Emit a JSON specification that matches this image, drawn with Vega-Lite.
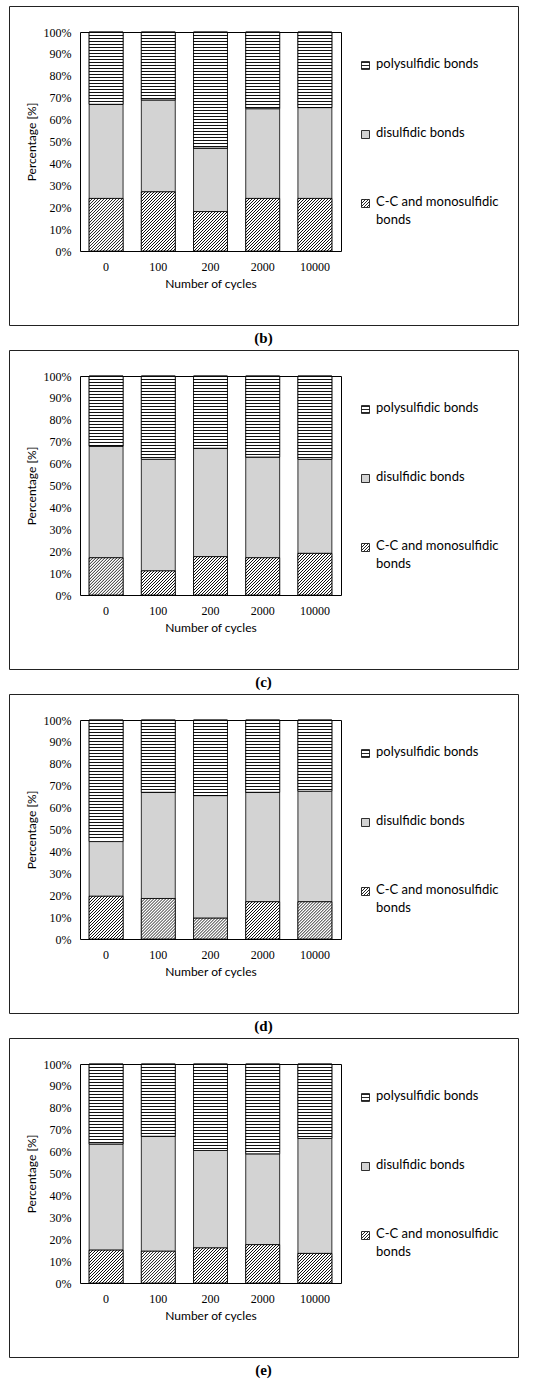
{
  "$schema": "https://vega.github.io/schema/vega-lite/v6.json",
  "padding": {"left": 8, "top": 5, "right": 0, "bottom": 0},
  "background": "white",
  "spacing": 2,
  "params": [
    {"name": "polyStops", "expr": "[{offset:0,color:'#fff'},{offset:0.004,color:'#111'},{offset:0.008,color:'#111'},{offset:0.012,color:'#fff'},{offset:0.025,color:'#fff'},{offset:0.029,color:'#111'},{offset:0.033,color:'#111'},{offset:0.037,color:'#fff'},{offset:0.05,color:'#fff'},{offset:0.054,color:'#111'},{offset:0.058,color:'#111'},{offset:0.062,color:'#fff'},{offset:0.075,color:'#fff'},{offset:0.079,color:'#111'},{offset:0.083,color:'#111'},{offset:0.087,color:'#fff'},{offset:0.1,color:'#fff'},{offset:0.104,color:'#111'},{offset:0.108,color:'#111'},{offset:0.112,color:'#fff'},{offset:0.125,color:'#fff'},{offset:0.129,color:'#111'},{offset:0.133,color:'#111'},{offset:0.137,color:'#fff'},{offset:0.15,color:'#fff'},{offset:0.154,color:'#111'},{offset:0.158,color:'#111'},{offset:0.162,color:'#fff'},{offset:0.175,color:'#fff'},{offset:0.179,color:'#111'},{offset:0.183,color:'#111'},{offset:0.187,color:'#fff'},{offset:0.2,color:'#fff'},{offset:0.204,color:'#111'},{offset:0.208,color:'#111'},{offset:0.212,color:'#fff'},{offset:0.225,color:'#fff'},{offset:0.229,color:'#111'},{offset:0.233,color:'#111'},{offset:0.237,color:'#fff'},{offset:0.25,color:'#fff'},{offset:0.254,color:'#111'},{offset:0.258,color:'#111'},{offset:0.262,color:'#fff'},{offset:0.275,color:'#fff'},{offset:0.279,color:'#111'},{offset:0.283,color:'#111'},{offset:0.287,color:'#fff'},{offset:0.3,color:'#fff'},{offset:0.304,color:'#111'},{offset:0.308,color:'#111'},{offset:0.312,color:'#fff'},{offset:0.325,color:'#fff'},{offset:0.329,color:'#111'},{offset:0.333,color:'#111'},{offset:0.337,color:'#fff'},{offset:0.35,color:'#fff'},{offset:0.354,color:'#111'},{offset:0.358,color:'#111'},{offset:0.362,color:'#fff'},{offset:0.375,color:'#fff'},{offset:0.379,color:'#111'},{offset:0.383,color:'#111'},{offset:0.387,color:'#fff'},{offset:0.4,color:'#fff'},{offset:0.404,color:'#111'},{offset:0.408,color:'#111'},{offset:0.412,color:'#fff'},{offset:0.425,color:'#fff'},{offset:0.429,color:'#111'},{offset:0.433,color:'#111'},{offset:0.437,color:'#fff'},{offset:0.45,color:'#fff'},{offset:0.454,color:'#111'},{offset:0.458,color:'#111'},{offset:0.462,color:'#fff'},{offset:0.475,color:'#fff'},{offset:0.479,color:'#111'},{offset:0.483,color:'#111'},{offset:0.487,color:'#fff'},{offset:0.5,color:'#fff'},{offset:0.504,color:'#111'},{offset:0.508,color:'#111'},{offset:0.512,color:'#fff'},{offset:0.525,color:'#fff'},{offset:0.529,color:'#111'},{offset:0.533,color:'#111'},{offset:0.537,color:'#fff'},{offset:0.55,color:'#fff'},{offset:0.554,color:'#111'},{offset:0.558,color:'#111'},{offset:0.562,color:'#fff'},{offset:0.575,color:'#fff'},{offset:0.579,color:'#111'},{offset:0.583,color:'#111'},{offset:0.587,color:'#fff'},{offset:0.6,color:'#fff'},{offset:0.604,color:'#111'},{offset:0.608,color:'#111'},{offset:0.612,color:'#fff'},{offset:0.625,color:'#fff'},{offset:0.629,color:'#111'},{offset:0.633,color:'#111'},{offset:0.637,color:'#fff'},{offset:0.65,color:'#fff'},{offset:0.654,color:'#111'},{offset:0.658,color:'#111'},{offset:0.662,color:'#fff'},{offset:0.675,color:'#fff'},{offset:0.679,color:'#111'},{offset:0.683,color:'#111'},{offset:0.687,color:'#fff'},{offset:0.7,color:'#fff'},{offset:0.704,color:'#111'},{offset:0.708,color:'#111'},{offset:0.712,color:'#fff'},{offset:0.725,color:'#fff'},{offset:0.729,color:'#111'},{offset:0.733,color:'#111'},{offset:0.737,color:'#fff'},{offset:0.75,color:'#fff'},{offset:0.754,color:'#111'},{offset:0.758,color:'#111'},{offset:0.762,color:'#fff'},{offset:0.775,color:'#fff'},{offset:0.779,color:'#111'},{offset:0.783,color:'#111'},{offset:0.787,color:'#fff'},{offset:0.8,color:'#fff'},{offset:0.804,color:'#111'},{offset:0.808,color:'#111'},{offset:0.812,color:'#fff'},{offset:0.825,color:'#fff'},{offset:0.829,color:'#111'},{offset:0.833,color:'#111'},{offset:0.837,color:'#fff'},{offset:0.85,color:'#fff'},{offset:0.854,color:'#111'},{offset:0.858,color:'#111'},{offset:0.862,color:'#fff'},{offset:0.875,color:'#fff'},{offset:0.879,color:'#111'},{offset:0.883,color:'#111'},{offset:0.887,color:'#fff'},{offset:0.9,color:'#fff'},{offset:0.904,color:'#111'},{offset:0.908,color:'#111'},{offset:0.912,color:'#fff'},{offset:0.925,color:'#fff'},{offset:0.929,color:'#111'},{offset:0.933,color:'#111'},{offset:0.937,color:'#fff'},{offset:0.95,color:'#fff'},{offset:0.954,color:'#111'},{offset:0.958,color:'#111'},{offset:0.962,color:'#fff'},{offset:0.975,color:'#fff'},{offset:0.979,color:'#111'},{offset:0.983,color:'#111'},{offset:0.987,color:'#fff'},{offset:1,color:'#fff'}]"},
    {"name": "polyLegend", "expr": "{id:'legpoly',gradient:'linear',x1:0,y1:0,x2:0,y2:15,stops:polyStops}"},
    {"name": "ccLegend", "expr": "{id:'legcc',gradient:'linear',x1:0,y1:0,x2:7.5,y2:7.5,stops:polyStops}"}
  ],
  "datasets": {
    "bonds": [
      {"panel": "b", "cycles": "0", "bond": "C-C and monosulfidic bonds", "value": 24, "order": 1},
      {"panel": "b", "cycles": "0", "bond": "disulfidic bonds", "value": 43, "order": 2},
      {"panel": "b", "cycles": "0", "bond": "polysulfidic bonds", "value": 33, "order": 3},
      {"panel": "b", "cycles": "100", "bond": "C-C and monosulfidic bonds", "value": 27, "order": 1},
      {"panel": "b", "cycles": "100", "bond": "disulfidic bonds", "value": 42, "order": 2},
      {"panel": "b", "cycles": "100", "bond": "polysulfidic bonds", "value": 31, "order": 3},
      {"panel": "b", "cycles": "200", "bond": "C-C and monosulfidic bonds", "value": 18, "order": 1},
      {"panel": "b", "cycles": "200", "bond": "disulfidic bonds", "value": 29, "order": 2},
      {"panel": "b", "cycles": "200", "bond": "polysulfidic bonds", "value": 53, "order": 3},
      {"panel": "b", "cycles": "2000", "bond": "C-C and monosulfidic bonds", "value": 24, "order": 1},
      {"panel": "b", "cycles": "2000", "bond": "disulfidic bonds", "value": 41, "order": 2},
      {"panel": "b", "cycles": "2000", "bond": "polysulfidic bonds", "value": 35, "order": 3},
      {"panel": "b", "cycles": "10000", "bond": "C-C and monosulfidic bonds", "value": 24, "order": 1},
      {"panel": "b", "cycles": "10000", "bond": "disulfidic bonds", "value": 41.5, "order": 2},
      {"panel": "b", "cycles": "10000", "bond": "polysulfidic bonds", "value": 34.5, "order": 3},
      {"panel": "c", "cycles": "0", "bond": "C-C and monosulfidic bonds", "value": 17, "order": 1},
      {"panel": "c", "cycles": "0", "bond": "disulfidic bonds", "value": 51, "order": 2},
      {"panel": "c", "cycles": "0", "bond": "polysulfidic bonds", "value": 32, "order": 3},
      {"panel": "c", "cycles": "100", "bond": "C-C and monosulfidic bonds", "value": 11, "order": 1},
      {"panel": "c", "cycles": "100", "bond": "disulfidic bonds", "value": 51, "order": 2},
      {"panel": "c", "cycles": "100", "bond": "polysulfidic bonds", "value": 38, "order": 3},
      {"panel": "c", "cycles": "200", "bond": "C-C and monosulfidic bonds", "value": 17.5, "order": 1},
      {"panel": "c", "cycles": "200", "bond": "disulfidic bonds", "value": 49.5, "order": 2},
      {"panel": "c", "cycles": "200", "bond": "polysulfidic bonds", "value": 33, "order": 3},
      {"panel": "c", "cycles": "2000", "bond": "C-C and monosulfidic bonds", "value": 17, "order": 1},
      {"panel": "c", "cycles": "2000", "bond": "disulfidic bonds", "value": 46, "order": 2},
      {"panel": "c", "cycles": "2000", "bond": "polysulfidic bonds", "value": 37, "order": 3},
      {"panel": "c", "cycles": "10000", "bond": "C-C and monosulfidic bonds", "value": 19, "order": 1},
      {"panel": "c", "cycles": "10000", "bond": "disulfidic bonds", "value": 43, "order": 2},
      {"panel": "c", "cycles": "10000", "bond": "polysulfidic bonds", "value": 38, "order": 3},
      {"panel": "d", "cycles": "0", "bond": "C-C and monosulfidic bonds", "value": 19.5, "order": 1},
      {"panel": "d", "cycles": "0", "bond": "disulfidic bonds", "value": 25, "order": 2},
      {"panel": "d", "cycles": "0", "bond": "polysulfidic bonds", "value": 55.5, "order": 3},
      {"panel": "d", "cycles": "100", "bond": "C-C and monosulfidic bonds", "value": 18.5, "order": 1},
      {"panel": "d", "cycles": "100", "bond": "disulfidic bonds", "value": 48.5, "order": 2},
      {"panel": "d", "cycles": "100", "bond": "polysulfidic bonds", "value": 33, "order": 3},
      {"panel": "d", "cycles": "200", "bond": "C-C and monosulfidic bonds", "value": 9.5, "order": 1},
      {"panel": "d", "cycles": "200", "bond": "disulfidic bonds", "value": 56, "order": 2},
      {"panel": "d", "cycles": "200", "bond": "polysulfidic bonds", "value": 34.5, "order": 3},
      {"panel": "d", "cycles": "2000", "bond": "C-C and monosulfidic bonds", "value": 17, "order": 1},
      {"panel": "d", "cycles": "2000", "bond": "disulfidic bonds", "value": 50, "order": 2},
      {"panel": "d", "cycles": "2000", "bond": "polysulfidic bonds", "value": 33, "order": 3},
      {"panel": "d", "cycles": "10000", "bond": "C-C and monosulfidic bonds", "value": 17, "order": 1},
      {"panel": "d", "cycles": "10000", "bond": "disulfidic bonds", "value": 50.5, "order": 2},
      {"panel": "d", "cycles": "10000", "bond": "polysulfidic bonds", "value": 32.5, "order": 3},
      {"panel": "e", "cycles": "0", "bond": "C-C and monosulfidic bonds", "value": 15, "order": 1},
      {"panel": "e", "cycles": "0", "bond": "disulfidic bonds", "value": 48.5, "order": 2},
      {"panel": "e", "cycles": "0", "bond": "polysulfidic bonds", "value": 36.5, "order": 3},
      {"panel": "e", "cycles": "100", "bond": "C-C and monosulfidic bonds", "value": 14.5, "order": 1},
      {"panel": "e", "cycles": "100", "bond": "disulfidic bonds", "value": 52.5, "order": 2},
      {"panel": "e", "cycles": "100", "bond": "polysulfidic bonds", "value": 33, "order": 3},
      {"panel": "e", "cycles": "200", "bond": "C-C and monosulfidic bonds", "value": 16, "order": 1},
      {"panel": "e", "cycles": "200", "bond": "disulfidic bonds", "value": 44.5, "order": 2},
      {"panel": "e", "cycles": "200", "bond": "polysulfidic bonds", "value": 39.5, "order": 3},
      {"panel": "e", "cycles": "2000", "bond": "C-C and monosulfidic bonds", "value": 17.5, "order": 1},
      {"panel": "e", "cycles": "2000", "bond": "disulfidic bonds", "value": 41.5, "order": 2},
      {"panel": "e", "cycles": "2000", "bond": "polysulfidic bonds", "value": 41, "order": 3},
      {"panel": "e", "cycles": "10000", "bond": "C-C and monosulfidic bonds", "value": 13.5, "order": 1},
      {"panel": "e", "cycles": "10000", "bond": "disulfidic bonds", "value": 52.5, "order": 2},
      {"panel": "e", "cycles": "10000", "bond": "polysulfidic bonds", "value": 34, "order": 3}
    ]
  },
  "resolve": {
    "scale": {"x": "independent", "y": "independent", "color": "independent"},
    "legend": {"color": "independent"}
  },
  "vconcat": [
    {
      "width": 509, "height": 319,
      "title": "(b)",
      "data": {"name": "bonds"},
      "transform": [{"filter": "datum.panel == 'b'"}, {"stack": "value", "groupby": ["cycles"], "sort": [{"field": "order", "order": "ascending"}], "offset": "normalize", "as": ["v0", "v1"]}],
      "layer": [
        {
          "mark": {"type": "bar", "stroke": "#000", "strokeWidth": 0.8},
          "encoding": {
            "x": {"field": "cycles", "type": "nominal", "sort": ["0", "100", "200", "2000", "10000"],
              "scale": {"range": [71, 332], "paddingInner": 0.35, "paddingOuter": 0.175},
              "axis": {"orient": "bottom", "offset": -74, "labelAngle": 0, "ticks": false, "labelPadding": 10, "labelFont": "Liberation Serif", "labelFontSize": 12, "title": "Number of cycles", "titleFont": "Lato", "titleFontSize": 12, "titleFontWeight": "normal", "titlePadding": 6}},
            "y": {"field": "v0", "type": "quantitative",
              "scale": {"range": [245, 26], "domain": [0, 1], "nice": false},
              "axis": {"orient": "left", "offset": -71, "values": [0, 0.1, 0.2, 0.3, 0.4, 0.5, 0.6, 0.7, 0.8, 0.9, 1], "format": ".0%", "ticks": false, "labelPadding": 9, "labelFont": "Liberation Serif", "labelFontSize": 12, "title": "Percentage [%]", "titleFont": "Lato", "titleFontSize": 12, "titleFontWeight": "normal", "titlePadding": 5}},
            "y2": {"field": "v1"},
            "color": {"field": "bond", "type": "nominal",
              "scale": {"domain": ["polysulfidic bonds", "disulfidic bonds", "C-C and monosulfidic bonds"], "range": [{"expr": "polyLegend"}, "#d3d3d3", {"expr": "ccLegend"}]},
              "legend": {"orient": "none", "legendX": 350, "legendY": 53, "title": null, "symbolType": "square", "symbolSize": 64, "symbolStrokeColor": "#000", "symbolStrokeWidth": 0.8, "symbolOpacity": 1, "labelFont": "Lato", "labelFontSize": 13, "labelColor": "#000", "labelLimit": 0, "rowPadding": 54, "labelOffset": 4, "labelBaseline": "top",
                "labelExpr": "datum.label == 'C-C and monosulfidic bonds' ? ['C-C and monosulfidic', 'bonds'] : datum.label",
                "encode": {"labels": {"update": {"dy": {"value": -8}, "lineHeight": {"value": 18}}}}}}
          }
        },
        {
          "transform": [{"filter": "datum.bond == 'polysulfidic bonds'"}],
          "mark": {"type": "bar", "stroke": "#000", "strokeWidth": 0.8, "fill": {"expr": "{id:'poly_'+datum.panel+'_'+datum.cycles,gradient:'linear',x1:0,y1:0,x2:0,y2:120/max(1,(datum.v1-datum.v0)*219),stops:polyStops}"}},
          "encoding": {
            "x": {"field": "cycles", "type": "nominal", "sort": ["0", "100", "200", "2000", "10000"], "axis": null},
            "y": {"field": "v0", "type": "quantitative", "axis": null},
            "y2": {"field": "v1"}
          }
        },
        {
          "transform": [{"filter": "datum.bond == 'C-C and monosulfidic bonds'"}],
          "mark": {"type": "bar", "stroke": "#000", "strokeWidth": 0.8, "fill": {"expr": "{id:'cc_'+datum.panel+'_'+datum.cycles,gradient:'linear',x1:0,y1:0,x2:120*33.93/(1151.2+pow((datum.v1-datum.v0)*219,2)),y2:120*(datum.v1-datum.v0)*219/(1151.2+pow((datum.v1-datum.v0)*219,2)),stops:polyStops}"}},
          "encoding": {
            "x": {"field": "cycles", "type": "nominal", "sort": ["0", "100", "200", "2000", "10000"], "axis": null},
            "y": {"field": "v0", "type": "quantitative", "axis": null},
            "y2": {"field": "v1"}
          }
        },
        {
          "mark": {"type": "bar", "opacity": 0},
          "encoding": {
            "x": {"field": "cycles", "type": "nominal", "sort": ["0", "100", "200", "2000", "10000"],
              "axis": {"orient": "top", "offset": -26, "labels": false, "ticks": false, "title": null, "domain": true}},
            "y": {"field": "v0", "type": "quantitative",
              "axis": {"orient": "right", "offset": -177, "labels": false, "ticks": false, "title": null, "domain": true}},
            "y2": {"field": "v1"}
          }
        }
      ],
      "resolve": {"axis": {"x": "independent", "y": "independent"}}
    },
    {
      "width": 509, "height": 319,
      "title": "(c)",
      "data": {"name": "bonds"},
      "transform": [{"filter": "datum.panel == 'c'"}, {"stack": "value", "groupby": ["cycles"], "sort": [{"field": "order", "order": "ascending"}], "offset": "normalize", "as": ["v0", "v1"]}],
      "layer": [
        {
          "mark": {"type": "bar", "stroke": "#000", "strokeWidth": 0.8},
          "encoding": {
            "x": {"field": "cycles", "type": "nominal", "sort": ["0", "100", "200", "2000", "10000"],
              "scale": {"range": [71, 332], "paddingInner": 0.35, "paddingOuter": 0.175},
              "axis": {"orient": "bottom", "offset": -74, "labelAngle": 0, "ticks": false, "labelPadding": 10, "labelFont": "Liberation Serif", "labelFontSize": 12, "title": "Number of cycles", "titleFont": "Lato", "titleFontSize": 12, "titleFontWeight": "normal", "titlePadding": 6}},
            "y": {"field": "v0", "type": "quantitative",
              "scale": {"range": [245, 26], "domain": [0, 1], "nice": false},
              "axis": {"orient": "left", "offset": -71, "values": [0, 0.1, 0.2, 0.3, 0.4, 0.5, 0.6, 0.7, 0.8, 0.9, 1], "format": ".0%", "ticks": false, "labelPadding": 9, "labelFont": "Liberation Serif", "labelFontSize": 12, "title": "Percentage [%]", "titleFont": "Lato", "titleFontSize": 12, "titleFontWeight": "normal", "titlePadding": 5}},
            "y2": {"field": "v1"},
            "color": {"field": "bond", "type": "nominal",
              "scale": {"domain": ["polysulfidic bonds", "disulfidic bonds", "C-C and monosulfidic bonds"], "range": [{"expr": "polyLegend"}, "#d3d3d3", {"expr": "ccLegend"}]},
              "legend": {"orient": "none", "legendX": 350, "legendY": 53, "title": null, "symbolType": "square", "symbolSize": 64, "symbolStrokeColor": "#000", "symbolStrokeWidth": 0.8, "symbolOpacity": 1, "labelFont": "Lato", "labelFontSize": 13, "labelColor": "#000", "labelLimit": 0, "rowPadding": 54, "labelOffset": 4, "labelBaseline": "top",
                "labelExpr": "datum.label == 'C-C and monosulfidic bonds' ? ['C-C and monosulfidic', 'bonds'] : datum.label",
                "encode": {"labels": {"update": {"dy": {"value": -8}, "lineHeight": {"value": 18}}}}}}
          }
        },
        {
          "transform": [{"filter": "datum.bond == 'polysulfidic bonds'"}],
          "mark": {"type": "bar", "stroke": "#000", "strokeWidth": 0.8, "fill": {"expr": "{id:'poly_'+datum.panel+'_'+datum.cycles,gradient:'linear',x1:0,y1:0,x2:0,y2:120/max(1,(datum.v1-datum.v0)*219),stops:polyStops}"}},
          "encoding": {
            "x": {"field": "cycles", "type": "nominal", "sort": ["0", "100", "200", "2000", "10000"], "axis": null},
            "y": {"field": "v0", "type": "quantitative", "axis": null},
            "y2": {"field": "v1"}
          }
        },
        {
          "transform": [{"filter": "datum.bond == 'C-C and monosulfidic bonds'"}],
          "mark": {"type": "bar", "stroke": "#000", "strokeWidth": 0.8, "fill": {"expr": "{id:'cc_'+datum.panel+'_'+datum.cycles,gradient:'linear',x1:0,y1:0,x2:120*33.93/(1151.2+pow((datum.v1-datum.v0)*219,2)),y2:120*(datum.v1-datum.v0)*219/(1151.2+pow((datum.v1-datum.v0)*219,2)),stops:polyStops}"}},
          "encoding": {
            "x": {"field": "cycles", "type": "nominal", "sort": ["0", "100", "200", "2000", "10000"], "axis": null},
            "y": {"field": "v0", "type": "quantitative", "axis": null},
            "y2": {"field": "v1"}
          }
        },
        {
          "mark": {"type": "bar", "opacity": 0},
          "encoding": {
            "x": {"field": "cycles", "type": "nominal", "sort": ["0", "100", "200", "2000", "10000"],
              "axis": {"orient": "top", "offset": -26, "labels": false, "ticks": false, "title": null, "domain": true}},
            "y": {"field": "v0", "type": "quantitative",
              "axis": {"orient": "right", "offset": -177, "labels": false, "ticks": false, "title": null, "domain": true}},
            "y2": {"field": "v1"}
          }
        }
      ],
      "resolve": {"axis": {"x": "independent", "y": "independent"}}
    },
    {
      "width": 509, "height": 319,
      "title": "(d)",
      "data": {"name": "bonds"},
      "transform": [{"filter": "datum.panel == 'd'"}, {"stack": "value", "groupby": ["cycles"], "sort": [{"field": "order", "order": "ascending"}], "offset": "normalize", "as": ["v0", "v1"]}],
      "layer": [
        {
          "mark": {"type": "bar", "stroke": "#000", "strokeWidth": 0.8},
          "encoding": {
            "x": {"field": "cycles", "type": "nominal", "sort": ["0", "100", "200", "2000", "10000"],
              "scale": {"range": [71, 332], "paddingInner": 0.35, "paddingOuter": 0.175},
              "axis": {"orient": "bottom", "offset": -74, "labelAngle": 0, "ticks": false, "labelPadding": 10, "labelFont": "Liberation Serif", "labelFontSize": 12, "title": "Number of cycles", "titleFont": "Lato", "titleFontSize": 12, "titleFontWeight": "normal", "titlePadding": 6}},
            "y": {"field": "v0", "type": "quantitative",
              "scale": {"range": [245, 26], "domain": [0, 1], "nice": false},
              "axis": {"orient": "left", "offset": -71, "values": [0, 0.1, 0.2, 0.3, 0.4, 0.5, 0.6, 0.7, 0.8, 0.9, 1], "format": ".0%", "ticks": false, "labelPadding": 9, "labelFont": "Liberation Serif", "labelFontSize": 12, "title": "Percentage [%]", "titleFont": "Lato", "titleFontSize": 12, "titleFontWeight": "normal", "titlePadding": 5}},
            "y2": {"field": "v1"},
            "color": {"field": "bond", "type": "nominal",
              "scale": {"domain": ["polysulfidic bonds", "disulfidic bonds", "C-C and monosulfidic bonds"], "range": [{"expr": "polyLegend"}, "#d3d3d3", {"expr": "ccLegend"}]},
              "legend": {"orient": "none", "legendX": 350, "legendY": 53, "title": null, "symbolType": "square", "symbolSize": 64, "symbolStrokeColor": "#000", "symbolStrokeWidth": 0.8, "symbolOpacity": 1, "labelFont": "Lato", "labelFontSize": 13, "labelColor": "#000", "labelLimit": 0, "rowPadding": 54, "labelOffset": 4, "labelBaseline": "top",
                "labelExpr": "datum.label == 'C-C and monosulfidic bonds' ? ['C-C and monosulfidic', 'bonds'] : datum.label",
                "encode": {"labels": {"update": {"dy": {"value": -8}, "lineHeight": {"value": 18}}}}}}
          }
        },
        {
          "transform": [{"filter": "datum.bond == 'polysulfidic bonds'"}],
          "mark": {"type": "bar", "stroke": "#000", "strokeWidth": 0.8, "fill": {"expr": "{id:'poly_'+datum.panel+'_'+datum.cycles,gradient:'linear',x1:0,y1:0,x2:0,y2:120/max(1,(datum.v1-datum.v0)*219),stops:polyStops}"}},
          "encoding": {
            "x": {"field": "cycles", "type": "nominal", "sort": ["0", "100", "200", "2000", "10000"], "axis": null},
            "y": {"field": "v0", "type": "quantitative", "axis": null},
            "y2": {"field": "v1"}
          }
        },
        {
          "transform": [{"filter": "datum.bond == 'C-C and monosulfidic bonds'"}],
          "mark": {"type": "bar", "stroke": "#000", "strokeWidth": 0.8, "fill": {"expr": "{id:'cc_'+datum.panel+'_'+datum.cycles,gradient:'linear',x1:0,y1:0,x2:120*33.93/(1151.2+pow((datum.v1-datum.v0)*219,2)),y2:120*(datum.v1-datum.v0)*219/(1151.2+pow((datum.v1-datum.v0)*219,2)),stops:polyStops}"}},
          "encoding": {
            "x": {"field": "cycles", "type": "nominal", "sort": ["0", "100", "200", "2000", "10000"], "axis": null},
            "y": {"field": "v0", "type": "quantitative", "axis": null},
            "y2": {"field": "v1"}
          }
        },
        {
          "mark": {"type": "bar", "opacity": 0},
          "encoding": {
            "x": {"field": "cycles", "type": "nominal", "sort": ["0", "100", "200", "2000", "10000"],
              "axis": {"orient": "top", "offset": -26, "labels": false, "ticks": false, "title": null, "domain": true}},
            "y": {"field": "v0", "type": "quantitative",
              "axis": {"orient": "right", "offset": -177, "labels": false, "ticks": false, "title": null, "domain": true}},
            "y2": {"field": "v1"}
          }
        }
      ],
      "resolve": {"axis": {"x": "independent", "y": "independent"}}
    },
    {
      "width": 509, "height": 319,
      "title": "(e)",
      "data": {"name": "bonds"},
      "transform": [{"filter": "datum.panel == 'e'"}, {"stack": "value", "groupby": ["cycles"], "sort": [{"field": "order", "order": "ascending"}], "offset": "normalize", "as": ["v0", "v1"]}],
      "layer": [
        {
          "mark": {"type": "bar", "stroke": "#000", "strokeWidth": 0.8},
          "encoding": {
            "x": {"field": "cycles", "type": "nominal", "sort": ["0", "100", "200", "2000", "10000"],
              "scale": {"range": [71, 332], "paddingInner": 0.35, "paddingOuter": 0.175},
              "axis": {"orient": "bottom", "offset": -74, "labelAngle": 0, "ticks": false, "labelPadding": 10, "labelFont": "Liberation Serif", "labelFontSize": 12, "title": "Number of cycles", "titleFont": "Lato", "titleFontSize": 12, "titleFontWeight": "normal", "titlePadding": 6}},
            "y": {"field": "v0", "type": "quantitative",
              "scale": {"range": [245, 26], "domain": [0, 1], "nice": false},
              "axis": {"orient": "left", "offset": -71, "values": [0, 0.1, 0.2, 0.3, 0.4, 0.5, 0.6, 0.7, 0.8, 0.9, 1], "format": ".0%", "ticks": false, "labelPadding": 9, "labelFont": "Liberation Serif", "labelFontSize": 12, "title": "Percentage [%]", "titleFont": "Lato", "titleFontSize": 12, "titleFontWeight": "normal", "titlePadding": 5}},
            "y2": {"field": "v1"},
            "color": {"field": "bond", "type": "nominal",
              "scale": {"domain": ["polysulfidic bonds", "disulfidic bonds", "C-C and monosulfidic bonds"], "range": [{"expr": "polyLegend"}, "#d3d3d3", {"expr": "ccLegend"}]},
              "legend": {"orient": "none", "legendX": 350, "legendY": 53, "title": null, "symbolType": "square", "symbolSize": 64, "symbolStrokeColor": "#000", "symbolStrokeWidth": 0.8, "symbolOpacity": 1, "labelFont": "Lato", "labelFontSize": 13, "labelColor": "#000", "labelLimit": 0, "rowPadding": 54, "labelOffset": 4, "labelBaseline": "top",
                "labelExpr": "datum.label == 'C-C and monosulfidic bonds' ? ['C-C and monosulfidic', 'bonds'] : datum.label",
                "encode": {"labels": {"update": {"dy": {"value": -8}, "lineHeight": {"value": 18}}}}}}
          }
        },
        {
          "transform": [{"filter": "datum.bond == 'polysulfidic bonds'"}],
          "mark": {"type": "bar", "stroke": "#000", "strokeWidth": 0.8, "fill": {"expr": "{id:'poly_'+datum.panel+'_'+datum.cycles,gradient:'linear',x1:0,y1:0,x2:0,y2:120/max(1,(datum.v1-datum.v0)*219),stops:polyStops}"}},
          "encoding": {
            "x": {"field": "cycles", "type": "nominal", "sort": ["0", "100", "200", "2000", "10000"], "axis": null},
            "y": {"field": "v0", "type": "quantitative", "axis": null},
            "y2": {"field": "v1"}
          }
        },
        {
          "transform": [{"filter": "datum.bond == 'C-C and monosulfidic bonds'"}],
          "mark": {"type": "bar", "stroke": "#000", "strokeWidth": 0.8, "fill": {"expr": "{id:'cc_'+datum.panel+'_'+datum.cycles,gradient:'linear',x1:0,y1:0,x2:120*33.93/(1151.2+pow((datum.v1-datum.v0)*219,2)),y2:120*(datum.v1-datum.v0)*219/(1151.2+pow((datum.v1-datum.v0)*219,2)),stops:polyStops}"}},
          "encoding": {
            "x": {"field": "cycles", "type": "nominal", "sort": ["0", "100", "200", "2000", "10000"], "axis": null},
            "y": {"field": "v0", "type": "quantitative", "axis": null},
            "y2": {"field": "v1"}
          }
        },
        {
          "mark": {"type": "bar", "opacity": 0},
          "encoding": {
            "x": {"field": "cycles", "type": "nominal", "sort": ["0", "100", "200", "2000", "10000"],
              "axis": {"orient": "top", "offset": -26, "labels": false, "ticks": false, "title": null, "domain": true}},
            "y": {"field": "v0", "type": "quantitative",
              "axis": {"orient": "right", "offset": -177, "labels": false, "ticks": false, "title": null, "domain": true}},
            "y2": {"field": "v1"}
          }
        }
      ],
      "resolve": {"axis": {"x": "independent", "y": "independent"}}
    }
  ],
  "config": {
    "view": {"stroke": "#222", "strokeWidth": 1},
    "axis": {"grid": false, "domainColor": "#000", "domainWidth": 1, "labelColor": "#000", "titleColor": "#000"},
    "title": {"orient": "bottom", "anchor": "middle", "offset": 6, "font": "Liberation Serif", "fontSize": 15, "fontWeight": "bold", "color": "#000"}
  }
}
